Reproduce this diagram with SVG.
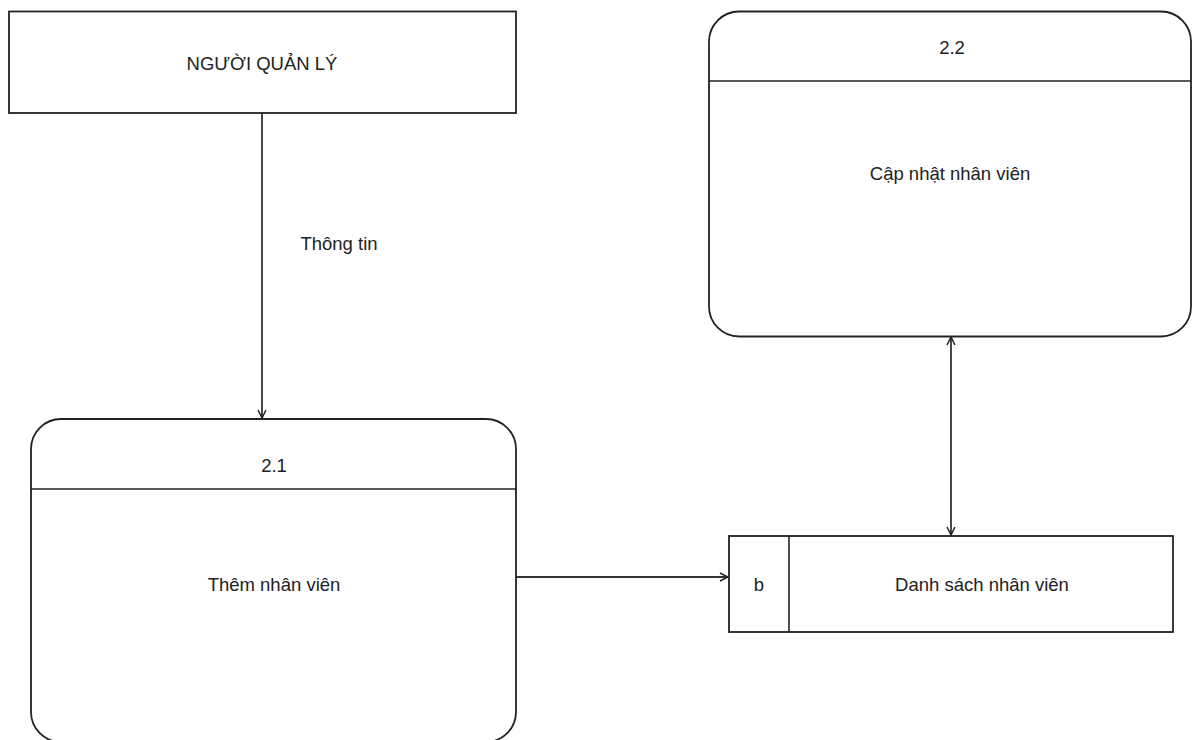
<svg xmlns="http://www.w3.org/2000/svg" width="1192" height="740" viewBox="0 0 1192 740">
<defs>
<style>
.box{fill:#fff;stroke:#222;stroke-width:1.8}
.ln{fill:none;stroke:#222;stroke-width:1.6}
.edge{fill:none;stroke:#333;stroke-width:1.8}
.t{font-family:"Liberation Sans",Arial,sans-serif;font-size:18.5px;fill:#222;text-anchor:middle;dominant-baseline:central}
</style>
<marker id="arr" viewBox="0 0 10 10" refX="9" refY="5" markerWidth="10" markerHeight="10" markerUnits="userSpaceOnUse" orient="auto-start-reverse">
<path d="M1,1 L9,5 L1,9" fill="none" stroke="#222" stroke-width="1.5"/>
</marker>
</defs>
<rect width="1192" height="740" fill="#fff"/>
<g id="connectors">
<line class="edge" x1="262" y1="113" x2="262" y2="418" marker-end="url(#arr)"/>
<text class="t" x="339" y="243">Thông tin</text>
<line class="edge" x1="516" y1="577" x2="728" y2="577" marker-end="url(#arr)"/>
<line class="edge" x1="951" y1="337" x2="951" y2="535" marker-start="url(#arr)" marker-end="url(#arr)"/>
</g>
<g id="nguoi-quan-ly">
<rect class="box" x="9" y="11.5" width="507" height="101.5"/>
<text class="t" x="262" y="63">NGƯỜI QUẢN LÝ</text>
</g>
<g id="p21">
<rect class="box" x="31" y="419" width="485" height="323" rx="30" ry="30"/>
<line class="ln" x1="31" y1="489" x2="516" y2="489"/>
<text class="t" x="274" y="465">2.1</text>
<text class="t" x="274" y="584">Thêm nhân viên</text>
</g>
<g id="p22">
<rect class="box" x="709" y="11.5" width="482" height="325" rx="30" ry="30"/>
<line class="ln" x1="709" y1="81" x2="1191" y2="81"/>
<text class="t" x="952" y="47">2.2</text>
<text class="t" x="950" y="173">Cập nhật nhân viên</text>
</g>
<g id="store">
<rect class="box" x="729" y="536" width="444" height="96"/>
<line class="ln" x1="789" y1="536" x2="789" y2="632"/>
<text class="t" x="759" y="584">b</text>
<text class="t" x="982" y="584">Danh sách nhân viên</text>
</g>
</svg>
